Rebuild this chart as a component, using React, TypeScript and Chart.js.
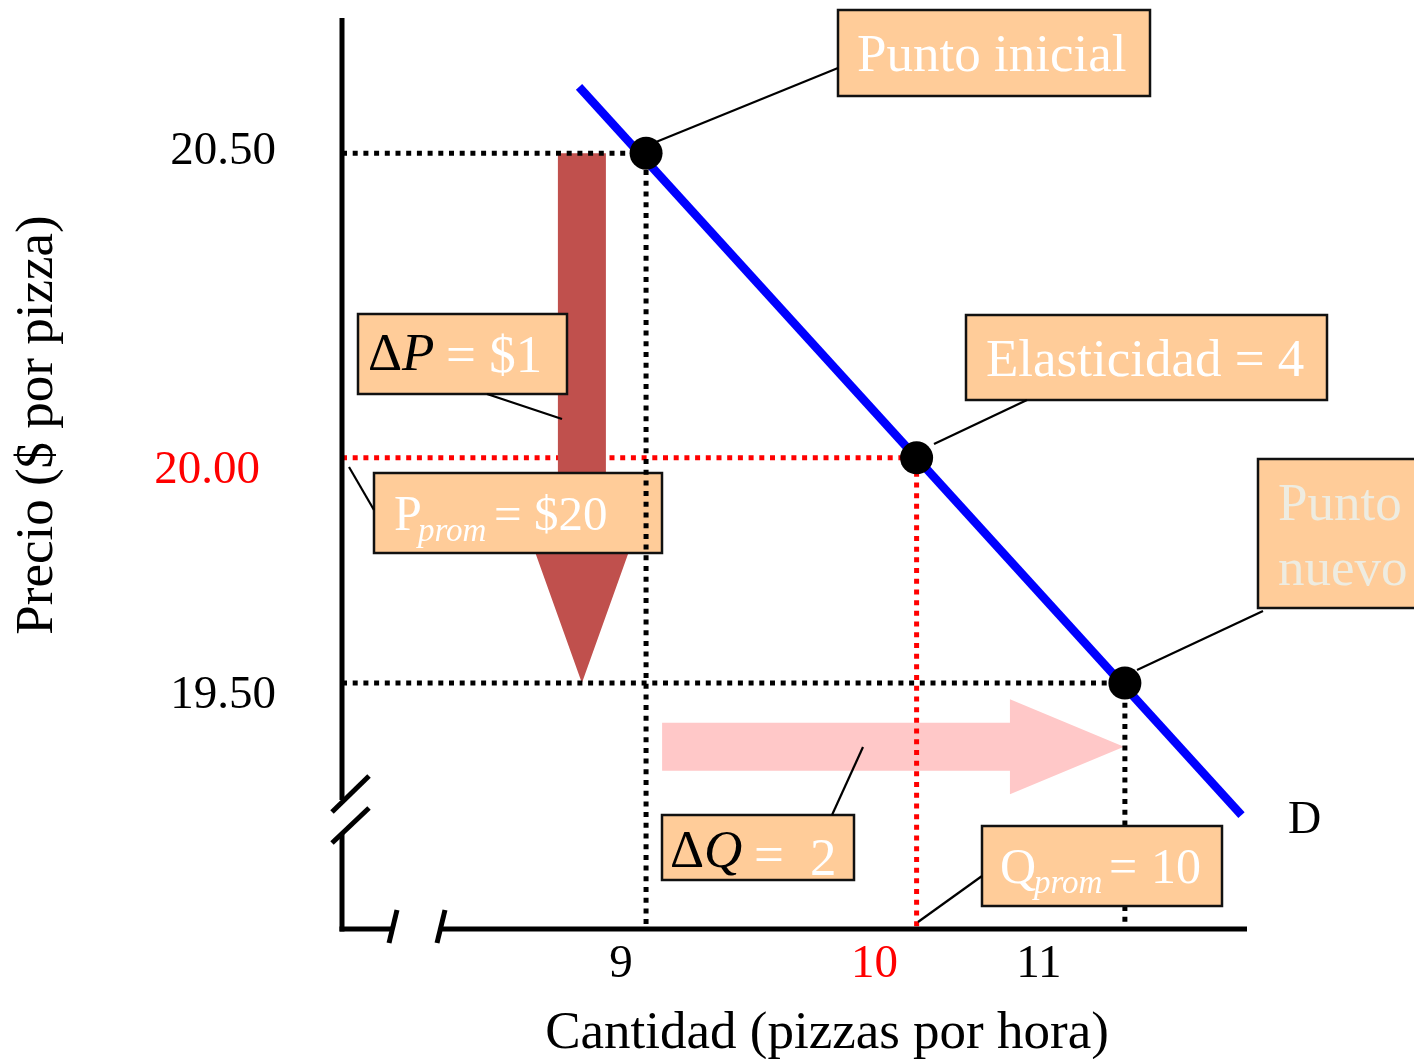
import React, { useEffect, useRef } from 'react';
import { Chart, registerables } from 'chart.js';

Chart.register(...registerables);

// ---------- data (diagram units: quantity on x, price on y) ----------
const X_MIN = 7.73;
const X_MAX = 11.51;
const Y_MIN = 19.036;
const Y_MAX = 20.755;

// the three marked points on the demand curve
const pointQuantities = [9, 10.13, 11];
const pointPrices = [20.5, 19.925, 19.5];

// demand curve D
const demandQuantities = [8.72, 11.487];
const demandPrices = [20.625, 19.251];

// axis tick labels (placed where the picture shows them)
const xTickValues = [8.895, 9.954, 10.641];
const xTickLabels = ['9', '10', '11'];
const yTickValues = [20.51, 19.908, 19.483];
const yTickLabels = ['20.50', '20.00', '19.50'];

// change arrows
const priceChangeQ = [8.732, 8.732];
const priceChangeP = [20.5, 19.5];
const quantityChangeQ = [9.067, 10.996];
const quantityChangeP = [19.38, 19.38];

// ---------- styles / layout ----------
const FONT = '"Liberation Serif", "Times New Roman", Times, serif';
const BLACK = '#000000';
const RED = '#FF0000';
const BLUE = '#0000FF';
const BOX_FILL = '#FFCC99';
const PALE = '#EEECE1';
const DARK_ARROW = '#C0504D';
const PINK_ARROW = '#FFC8C8';

const guideColors = [BLACK, RED, BLACK];
const xTickColors = [BLACK, RED, BLACK];
const yTickColors = [BLACK, RED, BLACK];
const yTickRight = [276, 260, 276];

type Seg = { t: string; x: number; y: number; size: number; color: string; italic?: boolean };
type Note = { box: number[]; leader: number[]; segs: Seg[] };

const NOTE_INICIAL: Note = {
  box: [838, 10, 1150, 96],
  leader: [838, 68, 656, 142],
  segs: [{ t: 'Punto inicial', x: 857, y: 71, size: 53, color: '#FFFFFF' }],
};
const NOTE_ELAST: Note = {
  box: [966, 315, 1327, 400],
  leader: [1027, 400, 934, 444],
  segs: [{ t: 'Elasticidad = 4', x: 986, y: 376, size: 53, color: '#FFFFFF' }],
};
const NOTE_NUEVO: Note = {
  box: [1258, 459, 1424, 608],
  leader: [1263, 611, 1137, 670],
  segs: [
    { t: 'Punto', x: 1278, y: 520, size: 53, color: PALE },
    { t: 'nuevo', x: 1278, y: 585, size: 53, color: PALE },
  ],
};
const NOTE_DP: Note = {
  box: [358, 314, 567, 394],
  leader: [487, 394, 562, 419],
  segs: [
    { t: '\u0394', x: 368, y: 370, size: 53, color: BLACK },
    { t: 'P', x: 402, y: 370, size: 53, color: BLACK, italic: true },
    { t: '= $1', x: 446, y: 372, size: 53, color: '#FFFFFF' },
  ],
};
const NOTE_PPROM: Note = {
  box: [374, 473, 662, 553],
  leader: [349, 467, 374, 510],
  segs: [
    { t: 'P', x: 394, y: 530, size: 50, color: '#FFFFFF' },
    { t: 'prom', x: 418, y: 541, size: 33, color: '#FFFFFF', italic: true },
    { t: '= $20', x: 494, y: 530, size: 49, color: '#FFFFFF' },
  ],
};
const NOTE_DQ: Note = {
  box: [662, 815, 854, 880],
  leader: [832, 815, 863, 747],
  segs: [
    { t: '\u0394', x: 670, y: 867, size: 53, color: BLACK },
    { t: 'Q', x: 704, y: 867, size: 53, color: BLACK, italic: true },
    { t: '=', x: 754, y: 872, size: 53, color: '#FFFFFF' },
    { t: '2', x: 810, y: 875, size: 53, color: '#FFFFFF' },
  ],
};
const NOTE_QPROM: Note = {
  box: [982, 826, 1222, 906],
  leader: [982, 876, 918, 922],
  segs: [
    { t: 'Q', x: 1000, y: 883, size: 50, color: '#FFFFFF' },
    { t: 'prom', x: 1034, y: 893, size: 33, color: '#FFFFFF', italic: true },
    { t: '=', x: 1109, y: 883, size: 50, color: '#FFFFFF' },
    { t: '10', x: 1151, y: 883, size: 50, color: '#FFFFFF' },
  ],
};

function drawNote(ctx: CanvasRenderingContext2D, n: Note) {
  const [x0, y0, x1, y1] = n.box;
  ctx.save();
  ctx.fillStyle = BOX_FILL;
  ctx.fillRect(x0, y0, x1 - x0, y1 - y0);
  ctx.strokeStyle = '#111111';
  ctx.lineWidth = 2.5;
  ctx.strokeRect(x0, y0, x1 - x0, y1 - y0);
  ctx.textAlign = 'left';
  ctx.textBaseline = 'alphabetic';
  for (const s of n.segs) {
    ctx.font = `${s.italic ? 'italic ' : ''}${s.size}px ${FONT}`;
    ctx.fillStyle = s.color;
    ctx.fillText(s.t, s.x, s.y);
  }
  ctx.strokeStyle = BLACK;
  ctx.lineWidth = 2.2;
  ctx.beginPath();
  ctx.moveTo(n.leader[0], n.leader[1]);
  ctx.lineTo(n.leader[2], n.leader[3]);
  ctx.stroke();
  ctx.restore();
}

function guideData(i: number) {
  return [
    { x: X_MIN, y: pointPrices[i] },
    { x: pointQuantities[i], y: pointPrices[i] },
    { x: pointQuantities[i], y: Y_MIN },
  ];
}

const diagramPlugin = {
  id: 'diagram',
  beforeDatasetsDraw(chart: any) {
    const { ctx, scales } = chart;
    const xs = scales.x, ys = scales.y;
    // quantity change arrow (pink)
    const xa = xs.getPixelForValue(quantityChangeQ[0]);
    const xb = xs.getPixelForValue(quantityChangeQ[1]);
    const yc = ys.getPixelForValue(quantityChangeP[0]);
    const shaft = 24, head = 47.5, headLen = 114;
    ctx.save();
    ctx.fillStyle = PINK_ARROW;
    ctx.beginPath();
    ctx.moveTo(xa, yc - shaft);
    ctx.lineTo(xb - headLen, yc - shaft);
    ctx.lineTo(xb - headLen, yc - head);
    ctx.lineTo(xb, yc);
    ctx.lineTo(xb - headLen, yc + head);
    ctx.lineTo(xb - headLen, yc + shaft);
    ctx.lineTo(xa, yc + shaft);
    ctx.closePath();
    ctx.fill();
    ctx.restore();
  },
  afterDatasetDraw(chart: any, args: any) {
    const { ctx, scales } = chart;
    const label = chart.data.datasets[args.index].label;
    if (label === 'guide-2') {
      const xs = scales.x, ys = scales.y;
      const xc = xs.getPixelForValue(priceChangeQ[0]);
      const ya = ys.getPixelForValue(priceChangeP[0]);
      const yb = ys.getPixelForValue(priceChangeP[1]);
      const shaft = 24, head = 46.5, headLen = 130;
      ctx.save();
      ctx.fillStyle = DARK_ARROW;
      ctx.beginPath();
      ctx.moveTo(xc - shaft, ya);
      ctx.lineTo(xc + shaft, ya);
      ctx.lineTo(xc + shaft, yb - headLen);
      ctx.lineTo(xc + head, yb - headLen);
      ctx.lineTo(xc, yb);
      ctx.lineTo(xc - head, yb - headLen);
      ctx.lineTo(xc - shaft, yb - headLen);
      ctx.closePath();
      ctx.fill();
      ctx.restore();
      drawNote(ctx, NOTE_DP);
      drawNote(ctx, NOTE_PPROM);
    }
    if (label === 'guide-3') {
      drawNote(ctx, NOTE_QPROM);
    }
  },
  afterDatasetsDraw(chart: any) {
    const { ctx, scales, chartArea } = chart;
    const xs = scales.x, ys = scales.y;
    drawNote(ctx, NOTE_INICIAL);
    drawNote(ctx, NOTE_ELAST);
    drawNote(ctx, NOTE_NUEVO);
    drawNote(ctx, NOTE_DQ);

    // axes with break marks
    const L = chartArea.left, T = chartArea.top, R = chartArea.right, B = chartArea.bottom;
    ctx.save();
    ctx.strokeStyle = BLACK;
    ctx.lineWidth = 5;
    ctx.lineCap = 'butt';
    const seg = (a: number, b: number, c: number, d: number) => {
      ctx.beginPath();
      ctx.moveTo(a, b);
      ctx.lineTo(c, d);
      ctx.stroke();
    };
    seg(L, T, L, B - 129);
    seg(L, B - 95, L, B + 2.5);
    seg(L - 10, B - 117, L + 27, B - 153);
    seg(L - 10, B - 86, L + 27, B - 121);
    seg(L - 2.5, B, L + 50, B);
    seg(L + 98, B, R, B);
    seg(L + 47, B + 14, L + 55, B - 19);
    seg(L + 95, B + 14, L + 103, B - 19);
    ctx.restore();

    // tick labels
    ctx.save();
    ctx.font = `47px ${FONT}`;
    ctx.textBaseline = 'alphabetic';
    ctx.textAlign = 'center';
    xTickValues.forEach((v, i) => {
      ctx.fillStyle = xTickColors[i];
      ctx.fillText(xTickLabels[i], xs.getPixelForValue(v), B + 48);
    });
    ctx.textAlign = 'right';
    yTickValues.forEach((v, i) => {
      ctx.fillStyle = yTickColors[i];
      ctx.fillText(yTickLabels[i], yTickRight[i], ys.getPixelForValue(v) + 16);
    });

    // axis titles
    ctx.fillStyle = BLACK;
    ctx.font = `53px ${FONT}`;
    ctx.textAlign = 'center';
    ctx.fillText('Cantidad (pizzas por hora)', 827, 1048);
    ctx.save();
    ctx.translate(52, 425);
    ctx.rotate(-Math.PI / 2);
    ctx.fillText('Precio ($ por pizza)', 0, 0);
    ctx.restore();

    // curve label
    ctx.font = `46px ${FONT}`;
    ctx.textAlign = 'left';
    ctx.fillText('D', 1288, 833);
    ctx.restore();
  },
};

export default function App() {
  const ref = useRef<HTMLCanvasElement | null>(null);

  useEffect(() => {
    if (!ref.current) return;
    const guideStyle = (i: number) => ({
      label: `guide-${i + 1}`,
      data: guideData(i),
      showLine: true,
      borderColor: guideColors[i],
      borderWidth: 5,
      borderDash: [5, 5.7],
      borderCapStyle: 'butt',
      pointRadius: 0,
      fill: false,
    });
    const chart = new Chart(ref.current, {
      type: 'scatter',
      data: {
        datasets: [
          {
            label: 'points',
            data: pointQuantities.map((q, i) => ({ x: q, y: pointPrices[i] })),
            pointRadius: 16.5,
            pointBackgroundColor: BLACK,
            pointBorderWidth: 0,
            showLine: false,
            order: 0,
          },
          {
            label: 'demand',
            data: demandQuantities.map((q, i) => ({ x: q, y: demandPrices[i] })),
            showLine: true,
            borderColor: BLUE,
            borderWidth: 8.5,
            borderCapStyle: 'butt',
            pointRadius: 0,
            order: 1,
          },
          { ...guideStyle(2), order: 3 },
          { ...guideStyle(0), order: 4 },
          { ...guideStyle(1), order: 5 },
        ] as any,
      },
      options: {
        responsive: false,
        animation: false,
        devicePixelRatio: 1,
        events: [],
        layout: { padding: { left: 342, right: 167, top: 18, bottom: 130 } },
        scales: {
          x: { type: 'linear', min: X_MIN, max: X_MAX, display: false },
          y: { type: 'linear', min: Y_MIN, max: Y_MAX, display: false },
        },
        plugins: {
          legend: { display: false },
          tooltip: { enabled: false },
          title: { display: false },
        },
      } as any,
      plugins: [diagramPlugin],
    });
    return () => chart.destroy();
  }, []);

  return (
    <div style={{ position: 'absolute', left: 0, top: 0, width: 1414, height: 1059, background: '#FFFFFF' }}>
      <canvas ref={ref} width={1414} height={1059} style={{ display: 'block' }} />
    </div>
  );
}
